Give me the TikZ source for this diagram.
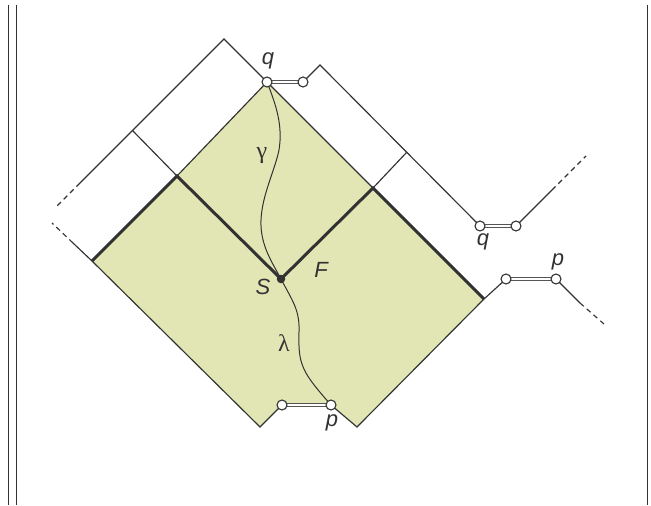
\documentclass[tikz,border=0pt]{standalone}
\usepackage{fontspec}
\setmainfont{Liberation Sans}
\newfontfamily\greekfont{Liberation Serif}
\definecolor{fillgreen}{RGB}{225,230,180}
\definecolor{ink}{RGB}{50,50,50}
\definecolor{dblgray}{RGB}{85,85,85}
\begin{document}
\begin{tikzpicture}[x=1pt,y=-1pt,
  ln/.style={draw=ink,line width=1.15pt},
  heavy/.style={draw=ink,line width=3pt,line join=miter},
  dsh/.style={draw=ink,line width=1.15pt,dash pattern=on 5pt off 4pt},
  dbl/.style={draw=dblgray,line width=1pt,double=white,double distance=2.4pt},
  endpt/.style={circle,draw=ink,fill=white,line width=1.1pt,minimum size=10pt,inner sep=0pt},
  sdot/.style={circle,fill=ink,minimum size=8.5pt,inner sep=0pt},
  lbl/.style={text=ink,font=\fontsize{22}{26}\selectfont\itshape,inner sep=0pt},
  glbl/.style={text=ink,font=\fontsize{24}{28}\selectfont\greekfont,inner sep=0pt}]
\useasboundingbox (0,0) rectangle (651,506);
% boundary lines
\draw[draw=ink,line width=1.3pt] (8.5,5) -- (8.5,505);
\draw[draw=ink,line width=1.3pt] (16.7,5) -- (16.7,505);
\draw[draw=ink,line width=1.3pt] (647.3,5) -- (647.3,505);
% coordinates
\coordinate (A) at (373,188);
\coordinate (B) at (484,299);
\coordinate (C) at (357,427);
\coordinate (D) at (260,427);
\coordinate (E) at (92,261);
\coordinate (G) at (177,176);
\coordinate (H) at (224,39);
\coordinate (I) at (132.5,130.5);
\coordinate (Ls) at (80,183);
\coordinate (Le) at (56,207);
\coordinate (Ks) at (73,243);
\coordinate (Ke) at (52,223);
\coordinate (M) at (320,65);
\coordinate (N) at (406.5,152.5);
\coordinate (R1) at (552,190);
\coordinate (R2) at (586,156);
\coordinate (P1) at (580,303);
\coordinate (P2) at (604,324);
\path (267,82) coordinate (qa) (303,82) coordinate (qb)
      (480,226) coordinate (qc) (516,226) coordinate (qd)
      (282,405) coordinate (pa) (331,405) coordinate (pb)
      (506,279) coordinate (pc) (556,279) coordinate (pd)
      (281,279) coordinate (S);
% green region
\fill[fillgreen] (qa) -- (A) -- (B) -- (C) -- (pb) -- (pa) -- (D) -- (E) -- (G) -- cycle;
% thin boundaries
\draw[ln] (G) -- (qa) -- (A);
\draw[ln] (B) -- (C) -- (pb);
\draw[ln] (pa) -- (D) -- (E);
\draw[ln] (Ls) -- (H) -- (qa);
\draw[dsh] (Ls) -- (Le);
\draw[ln] (I) -- (G);
\draw[ln] (Ks) -- (E);
\draw[dsh] (Ks) -- (Ke);
\draw[ln] (qb) -- (M) -- (qc);
\draw[ln] (N) -- (A);
\draw[ln] (qd) -- (R1);
\draw[dsh] (R1) -- (R2);
\draw[ln] (B) -- (pc);
\draw[ln] (pd) -- (P1);
\draw[dsh] (P1) -- (P2);
% thick lines
\draw[heavy] (E) -- (G) -- (S) -- (A) -- (B);
% curves
\draw[ln,line width=1pt] (qa) .. controls (276,105) and (283,125) .. (279,150)
   .. controls (275,170) and (262,195) .. (261,220)
   .. controls (260,245) and (272,262) .. (S);
\draw[ln,line width=1pt] (S) .. controls (292,300) and (300,310) .. (299,332)
   .. controls (298,365) and (302,372) .. (pb);
% double lines
\draw[dbl] (qa) -- (qb);
\draw[dbl] (qc) -- (qd);
\draw[dbl] (pa) -- (pb);
\draw[dbl] (pc) -- (pd);
% endpoint circles
\node[endpt] (nqa) at (qa) {};
\node[endpt] (nqb) at (qb) {};
\node[endpt] (nqc) at (qc) {};
\node[endpt] (nqd) at (qd) {};
\node[endpt] (npa) at (pa) {};
\node[endpt] (npb) at (pb) {};
\node[endpt] (npc) at (pc) {};
\node[endpt] (npd) at (pd) {};
\node[sdot] (nS) at (S) {};
% labels
\node[lbl] (lq1) at (268,61) {q};
\node[lbl] (lq2) at (483,242) {q};
\node[lbl] (lp1) at (558,262) {p};
\node[lbl] (lp2) at (332,423) {p};
\node[lbl] (lS) at (263,287) {S};
\node[lbl] (lF) at (321,270) {F};
\node[glbl] (lg) at (262,156) {γ};
\node[glbl] (ll) at (284,343) {λ};
\end{tikzpicture}
\end{document}
